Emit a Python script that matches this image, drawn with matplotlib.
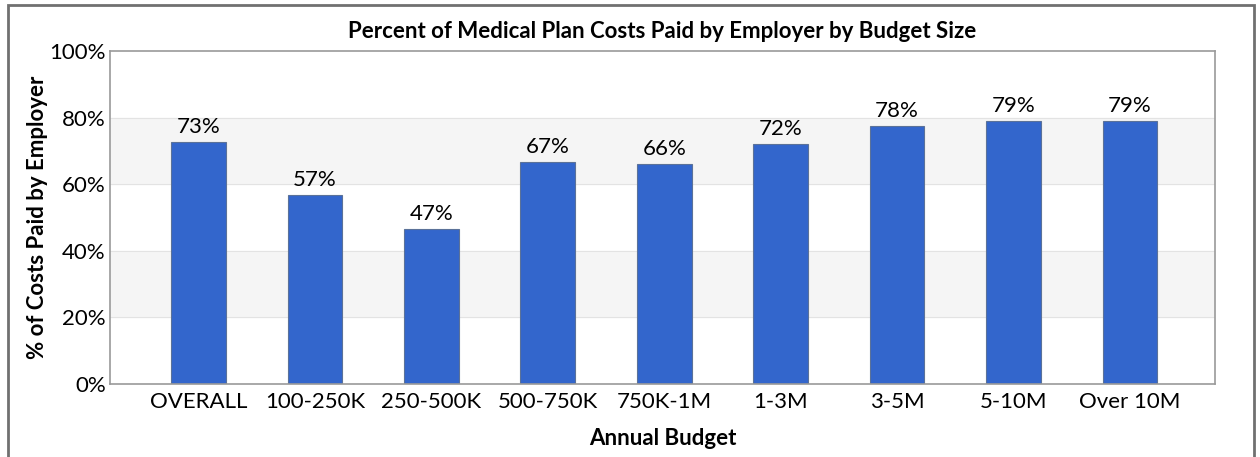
import matplotlib
matplotlib.use("Agg")
import matplotlib.pyplot as plt
from matplotlib.patches import Rectangle

plt.rcParams['font.family'] = ['Lato', 'DejaVu Sans']

categories = ['OVERALL', '100-250K', '250-500K', '500-750K', '750K-1M', '1-3M', '3-5M', '5-10M', 'Over 10M']
values = [72.6, 56.7, 46.6, 66.7, 66.2, 72.0, 77.6, 78.9, 79.0]
labels = ['73%', '57%', '47%', '67%', '66%', '72%', '78%', '79%', '79%']
yticks = [0, 20, 40, 60, 80, 100]

fs = 16
fig = plt.figure(figsize=(12.6, 4.57), dpi=100)
ax = fig.add_axes([110 / 1260, 1 - 384 / 457, 1105 / 1260, 333 / 457])

# outer frame
fig.patches.append(Rectangle((8 / 1260, -0.1), 1246 / 1260, 1.1 - 5 / 457,
                             transform=fig.transFigure, fill=False,
                             edgecolor='#707070', linewidth=2))

# alternating bands
for lo, hi in [(20, 40), (60, 80)]:
    ax.axhspan(lo, hi, color='#f5f5f5', zorder=0)
for y in [20, 40, 60, 80]:
    ax.axhline(y, color='#e3e3e3', linewidth=0.8, zorder=0.5)

x = range(len(categories))
ax.bar(x, values, width=0.47, color='#3366cc', edgecolor='#5b7299',
       linewidth=0.8, zorder=2)
for xi, v, lab in zip(x, values, labels):
    ax.text(xi, v + 1.5, lab, ha='center', va='bottom', fontsize=fs)

ax.set_xlim(-0.76, 8.73)
ax.set_ylim(0, 100)
ax.set_yticks(yticks)
ax.set_yticklabels([f'{t}%' for t in yticks], fontsize=fs)
ax.set_xticks(list(x))
ax.set_xticklabels(categories, fontsize=fs)
ax.tick_params(axis='y', length=0, pad=3)
ax.tick_params(axis='x', length=0, pad=6)
for s in ax.spines.values():
    s.set_color('#9a9a9a')
    s.set_linewidth(1.2)

ax.set_xlabel('Annual Budget', fontsize=fs, fontweight='bold', labelpad=11)
ax.set_ylabel('% of Costs Paid by Employer', fontsize=fs, fontweight='bold', labelpad=1)
fig.text(662 / 1260, 1 - 32 / 457, 'Percent of Medical Plan Costs Paid by Employer by Budget Size',
         ha='center', va='center', fontsize=fs, fontweight='bold')

fig.savefig('out.png', dpi=100)
